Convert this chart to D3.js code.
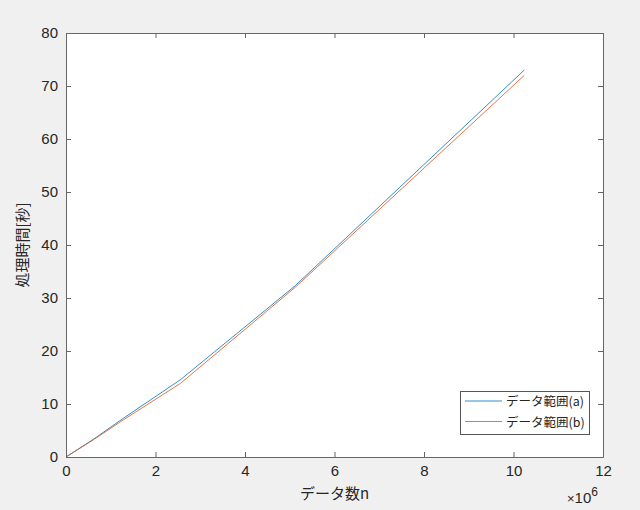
<!DOCTYPE html>
<html><head><meta charset="utf-8">
<script src="https://cdn.jsdelivr.net/npm/d3@7"></script>
<style>
html,body{margin:0;padding:0;background:#f0f0f0;}
svg{display:block;font-family:"Noto Sans CJK JP","Noto Sans",sans-serif;}
</style></head><body>
<svg id="c" width="640" height="510"></svg>
<script>
const nValues = [0, 0.64e6, 1.28e6, 2.56e6, 5.12e6, 10.24e6];
const seriesA = [0, 3.5, 7.3, 14.6, 32.3, 73.0];
const seriesB = [0, 3.4, 7.0, 13.9, 32.0, 72.0];
const seriesNames = ["データ範囲(a)", "データ範囲(b)"];
const seriesColors = ["#0072BD", "#D95319"];
const xTicks = [0, 2e6, 4e6, 6e6, 8e6, 10e6, 12e6];
const yTicks = [0, 10, 20, 30, 40, 50, 60, 70, 80];
const xLabel = "データ数n";
const yLabel = "処理時間[秒]";

const svg = d3.select("#c");
const L = 66, T = 33, R = 603, B = 457;
const x = d3.scaleLinear().domain([0, 12e6]).range([L, R]);
const y = d3.scaleLinear().domain([0, 80]).range([B, T]);
const axisColor = "#666";
const textColor = "#262626";
const numFont = "'Liberation Sans','DejaVu Sans',sans-serif";

svg.append("rect").attr("x", L).attr("y", T).attr("width", R - L).attr("height", B - T).attr("fill", "#fff");

const series = [seriesA, seriesB];
const line = d3.line().x((d, i) => x(nValues[i])).y(d => y(d));
series.forEach((s, k) => {
  svg.append("path").datum(s).attr("d", line).attr("fill", "none")
    .attr("stroke", seriesColors[k]).attr("stroke-width", 0.8);
});

function styleAxis(g) {
  g.selectAll("path").attr("stroke", axisColor);
  g.selectAll("line").attr("stroke", axisColor);
  g.selectAll("text").attr("fill", textColor).style("font-size", "15px")
    .style("font-family", numFont);
}
const fmtX = d => d3.format("d")(d / 1e6);
const gx = svg.append("g").attr("transform", `translate(0,${B})`)
  .call(d3.axisBottom(x).tickValues(xTicks).tickFormat(fmtX).tickSizeInner(-5).tickSizeOuter(0).tickPadding(8));
styleAxis(gx);
const gxt = svg.append("g").attr("transform", `translate(0,${T})`)
  .call(d3.axisTop(x).tickValues(xTicks).tickFormat("").tickSizeInner(-5).tickSizeOuter(0));
styleAxis(gxt);
const gy = svg.append("g").attr("transform", `translate(${L},0)`)
  .call(d3.axisLeft(y).tickValues(yTicks).tickSizeInner(-5).tickSizeOuter(0).tickPadding(8));
styleAxis(gy);
const gyr = svg.append("g").attr("transform", `translate(${R},0)`)
  .call(d3.axisRight(y).tickValues(yTicks).tickFormat("").tickSizeInner(-5).tickSizeOuter(0));
styleAxis(gyr);

svg.append("text").attr("x", (L + R) / 2).attr("y", 499).attr("text-anchor", "middle")
  .attr("fill", textColor).style("font-size", "15px").text(xLabel);
svg.append("text").attr("transform", `translate(28,${(T + B) / 2}) rotate(-90)`).attr("text-anchor", "middle")
  .attr("fill", textColor).style("font-size", "15px").text(yLabel);

const mult = svg.append("text").attr("x", 567).attr("y", 503).attr("fill", textColor)
  .style("font-family", numFont).style("font-size", "15px");
mult.append("tspan").style("font-size", "13px").text("×");
mult.append("tspan").text("10");
mult.append("tspan").attr("dy", -7).style("font-size", "12px").text("6");

const lg = svg.append("g");
lg.append("rect").attr("x", 460.5).attr("y", 391.5).attr("width", 129).attr("height", 43)
  .attr("fill", "#fff").attr("stroke", "#555").attr("stroke-width", 1);
seriesNames.forEach((name, k) => {
  const yy = 401 + k * 20.5;
  lg.append("line").attr("x1", 465).attr("x2", 502).attr("y1", yy).attr("y2", yy)
    .attr("stroke", seriesColors[k]).attr("stroke-width", 0.8);
  lg.append("text").attr("x", 506).attr("y", yy + 5).attr("fill", textColor)
    .style("font-size", "12.5px").text(name);
});
</script></body></html>
